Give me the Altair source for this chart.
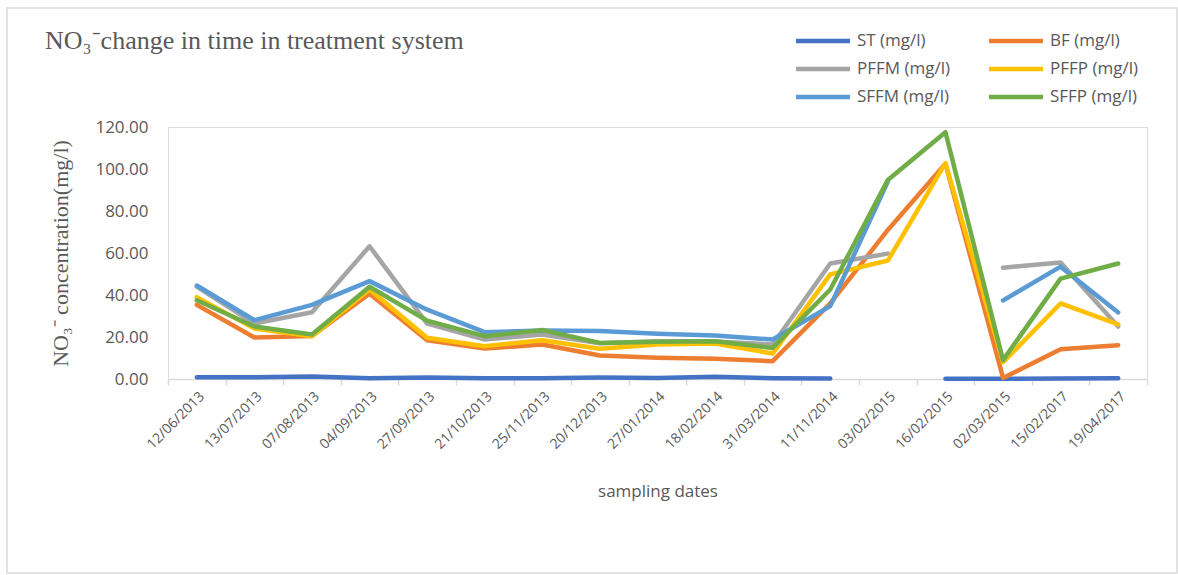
import altair as alt
import pandas as pd

# Sampling dates (categorical x axis, kept in collection order)
dates = ["12/06/2013", "13/07/2013", "07/08/2013", "04/09/2013", "27/09/2013",
         "21/10/2013", "25/11/2013", "20/12/2013", "27/01/2014", "18/02/2014",
         "31/03/2014", "11/11/2014", "03/02/2015", "16/02/2015", "02/03/2015",
         "15/02/2017", "19/04/2017"]

# NO3- concentration (mg/l) per treatment stage; None = not sampled
st = [0.8, 0.8, 1.2, 0.3, 0.7, 0.4, 0.4, 0.7, 0.5, 1.1, 0.4, 0.2, None, 0.1, 0.1, 0.2, 0.4]
bf = [35.3, 19.8, 20.5, 40.6, 18.5, 14.5, 16.4, 11.2, 10.1, 9.6, 8.5, 36.0, 71.0, 102.5, 0.5, 14.2, 16.1]
pffm = [44.0, 26.4, 31.8, 63.2, 26.4, 18.8, 21.2, 17.0, 18.0, 17.8, 16.4, 55.0, 59.7, None, 53.0, 55.5, 25.0]
pffp = [39.0, 24.0, 20.4, 42.6, 19.6, 15.6, 18.5, 14.4, 16.4, 16.9, 12.1, 49.8, 56.4, 102.8, 8.0, 36.0, 26.0]
sffm = [44.5, 28.0, 35.3, 46.6, 33.0, 22.3, 23.1, 22.8, 21.5, 20.7, 18.8, 34.7, 94.0, None, 37.4, 53.5, 31.7]
sffp = [37.5, 25.0, 21.2, 43.9, 27.8, 20.4, 23.3, 17.2, 17.7, 18.0, 14.8, 42.6, 94.8, 117.5, 9.0, 47.8, 55.0]

series_names = ["ST (mg/l)", "BF (mg/l)", "PFFM (mg/l)", "PFFP (mg/l)", "SFFM (mg/l)", "SFFP (mg/l)"]
series_values = [st, bf, pffm, pffp, sffm, sffp]
series_colors = ["#4472C4", "#ED7D31", "#A5A5A5", "#FFC000", "#5B9BD5", "#70AD47"]

rows = []
for name, vals in zip(series_names, series_values):
    for d, v in zip(dates, vals):
        rows.append({"date": d, "series": name, "value": v})
df = pd.DataFrame(rows)

label_color = "#595959"
sans = "Open Sans"
serif = "Liberation Serif"

lines = alt.Chart(df).mark_line(
    strokeWidth=4.5, strokeCap="round", strokeJoin="round"
).encode(
    x=alt.X(
        "date:N",
        sort=dates,
        bandPosition=0.5,
        scale=alt.Scale(type="band", paddingInner=0, paddingOuter=0),
        axis=alt.Axis(
            title="sampling dates",
            titleFont=sans, titleFontSize=17, titleFontWeight="normal",
            titleColor=label_color, titleY=112, titleBaseline="middle",
            labelAngle=-45, labelFont=sans, labelFontSize=14,
            labelColor=label_color, labelPadding=4,
            domainColor="#D9D9D9", domainWidth=1.5,
            tickColor="#D9D9D9", tickWidth=1.5, tickSize=6, tickBand="extent",
            grid=False,
        ),
    ),
    y=alt.Y(
        "value:Q",
        scale=alt.Scale(domain=[0, 120], nice=False, zero=True),
        axis=alt.Axis(
            title="NO₃⁻ concentration(mg/l)",
            titleFont=serif, titleFontSize=22, titleFontWeight="normal",
            titleColor=label_color, titleAngle=270,
            titleX=-108, titleY=126, titleAlign="center", titleBaseline="middle",
            values=[0, 20, 40, 60, 80, 100, 120], format=".2f",
            labelFont=sans, labelFontSize=17, labelColor=label_color,
            labelPadding=20, ticks=False, domain=False, grid=False,
        ),
    ),
    color=alt.Color(
        "series:N",
        sort=series_names,
        scale=alt.Scale(domain=series_names, range=series_colors),
        legend=alt.Legend(
            title=None, orient="none", legendX=639, legendY=-102,
            direction="horizontal", columns=2, columnPadding=29, rowPadding=3,
            symbolType="M-2,0H2", symbolSize=729, symbolStrokeWidth=4.5,
            labelFont=sans, labelFontSize=17, labelColor=label_color,
            labelOffset=18, padding=0,
        ),
    ),
)

# Light frame around the whole chart area
frame = alt.Chart(pd.DataFrame({"f": [0]})).mark_rect(
    fill=None, stroke="#D9D9D9", strokeWidth=1.5
).encode(
    x=alt.value(-161), x2=alt.value(1009), y=alt.value(-119), y2=alt.value(446)
)

chart = alt.layer(frame, lines).properties(
    width=979,
    height=252,
    title=alt.TitleParams(
        text="NO₃⁻change in time in treatment system",
        anchor="start", frame="group", orient="top",
        font=serif, fontSize=26, fontWeight="normal", color=label_color,
        dx=-123, dy=47, offset=0,
    ),
    autosize=alt.AutoSizeParams(type="none"),
    padding={"left": 168, "top": 127, "right": 31, "bottom": 196},
).configure_view(stroke=None).configure(background="white")

chart.save("out.html", embed_options={"renderer": "svg", "actions": False})
